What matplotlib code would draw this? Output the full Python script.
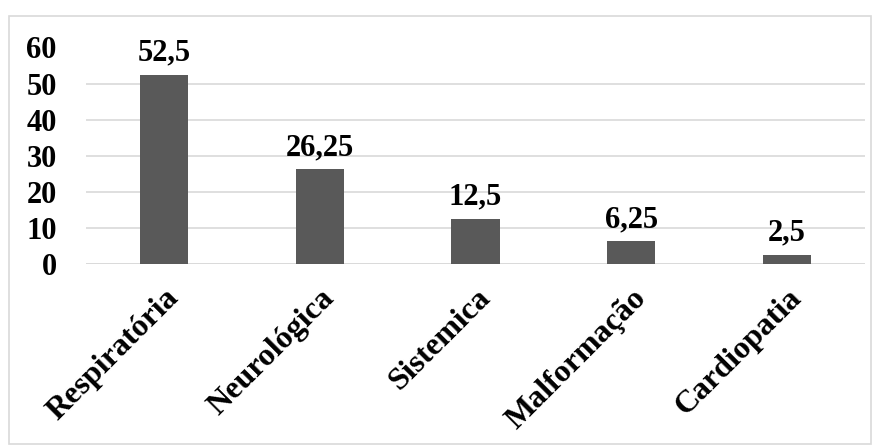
import matplotlib.pyplot as plt
from matplotlib.patches import Rectangle

categorias = ["Respiratória", "Neurológica", "Sistemica", "Malformação", "Cardiopatia"]
valores = [52.5, 26.25, 12.5, 6.25, 2.5]
rotulos = ["52,5", "26,25", "12,5", "6,25", "2,5"]
ticks_y = [0, 10, 20, 30, 40, 50, 60]

plt.rcParams['font.family'] = ['Liberation Serif', 'DejaVu Serif']
plt.rcParams['font.weight'] = 'bold'

fig = plt.figure(figsize=(8.81, 4.47), dpi=100)
ax = fig.add_axes([86/881, 1-264/447, (865-86)/881, (264-47.5)/447])

x = range(len(categorias))
ax.bar(x, valores, width=0.31, color='#595959', zorder=3)
for i, v in enumerate(valores):
    ax.text(i, v + 2.0, rotulos[i], ha='center', va='bottom', fontsize=22, fontweight='bold')

ax.set_xlim(-0.5, len(categorias) - 0.5)
ax.set_ylim(0, 60)
ax.set_yticks(ticks_y)
ax.set_yticklabels([str(t) for t in ticks_y], fontsize=22, fontweight='bold')
ax.yaxis.grid(True, color='#d9d9d9', linewidth=1.2, zorder=0)
ax.tick_params(axis='y', length=0, pad=21)
ax.tick_params(axis='x', length=0, pad=14)
ax.set_xticks(list(x))
ax.set_xticklabels(categorias, rotation=45, ha='right', va='top',
                   rotation_mode='anchor', fontsize=23, fontweight='bold')
for s in ax.spines.values():
    s.set_visible(False)
ax.axhline(0, color='#d9d9d9', linewidth=1.2, zorder=1)

fig.patches.append(Rectangle((9/881, 1-444/447), 862/881, 428/447, transform=fig.transFigure,
                             fill=False, edgecolor='#d9d9d9', linewidth=1.2))

fig.savefig('out.png', dpi=100)
